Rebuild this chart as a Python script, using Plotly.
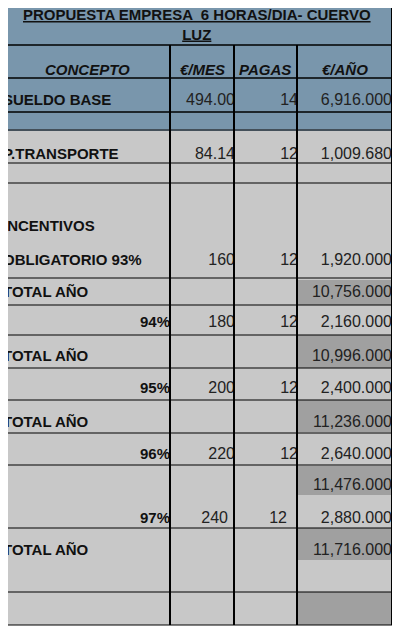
import plotly.graph_objects as go

# table contents (spreadsheet screenshot)
concepto = ['SUELDO BASE', 'P.TRANSPORTE', 'INCENTIVOS', 'OBLIGATORIO 93%', 'TOTAL AÑO',
            '94%', 'TOTAL AÑO', '95%', 'TOTAL AÑO', '96%', '', '97%', 'TOTAL AÑO']
eur_mes = ['494.00', '84.14', '', '160', '', '180', '', '200', '', '220', '', '240', '']
pagas = ['14', '12', '', '12', '', '12', '', '12', '', '12', '', '12', '']
eur_anio = ['6,916.000', '1,009.680', '', '1,920.000', '10,756.000', '2,160.000', '10,996.000',
            '2,400.000', '11,236.000', '2,640.000', '11,476.000', '2,880.000', '11,716.000']

# layout: text centre of each row, and cell geometry
row_y = [101, 155, 227, 261, 293, 323, 357, 389, 423, 455, 486, 519, 551]
col_x = [3, 170, 234, 297, 392]
h_lines = [163, 183, 278, 305, 335, 368, 400, 433, 465, 528, 592, 625]
dark_cells = [(280, 305), (335, 368), (400, 432), (466, 495), (528, 560), (592, 625)]

BLUE = '#7996ac'
LIGHT = '#a3c3dc'
GRAY = '#c8c8c8'
DARK = '#a0a0a0'
FONT = 'Liberation Sans, Arial, sans-serif'
OFF = 8  # page body margin

fig = go.Figure()

shapes = [
    dict(type='rect', x0=0, x1=410, y0=0, y1=130, fillcolor=LIGHT, line_width=0, layer='below'),
    dict(type='rect', x0=col_x[0], x1=col_x[-1], y0=3, y1=130, fillcolor=BLUE, line_width=0, layer='below'),
    dict(type='rect', x0=col_x[0], x1=col_x[-1], y0=130, y1=625, fillcolor=GRAY, line_width=0, layer='below'),
]
for y0, y1 in dark_cells:
    shapes.append(dict(type='rect', x0=col_x[3] + 1, x1=col_x[4], y0=y0, y1=y1,
                       fillcolor=DARK, line_width=0, layer='below'))
for y in [3, 45, 78, 112]:
    shapes.append(dict(type='line', x0=col_x[0], x1=col_x[-1], y0=y, y1=y, line=dict(color='black', width=1.5)))
shapes.append(dict(type='line', x0=0, x1=410, y0=130, y1=130, line=dict(color='#44505a', width=2)))
for y in h_lines:
    shapes.append(dict(type='line', x0=col_x[0], x1=col_x[-1], y0=y, y1=y, line=dict(color='black', width=1)))
for i, x in enumerate(col_x):
    top = 3 if i in (0, 4) else 45
    shapes.append(dict(type='line', x0=x, x1=x, y0=top, y1=625, line=dict(color='black', width=2)))

fig.update_layout(shapes=shapes)

fig.add_annotation(x=197, y=24, xref='x', yref='y', showarrow=False,
                   text='<b><u>PROPUESTA EMPRESA  6 HORAS/DIA- CUERVO</u></b><br><b><u>LUZ</u></b>',
                   font=dict(family=FONT, size=15, color='#111'), align='center')
for name, cx in zip(['CONCEPTO', '€/MES', 'PAGAS', '€/AÑO'],
                    [87, 202, 265, 345]):
    fig.add_annotation(x=cx, y=69, xref='x', yref='y', showarrow=False,
                       text='<b><i>' + name + '</i></b>', font=dict(family=FONT, size=15, color='#111'))

left_labels = [c if not c.endswith('%') or ' ' in c else '' for c in concepto]
pct_labels = [c if c.endswith('%') and ' ' not in c else '' for c in concepto]
fig.add_trace(go.Scatter(x=[3] * len(row_y), y=row_y, mode='text', textposition='middle right',
                         text=['<b>' + t + '</b>' for t in left_labels],
                         textfont=dict(family=FONT, size=15, color='#111')))
fig.add_trace(go.Scatter(x=[170] * len(row_y), y=row_y, mode='text', textposition='middle left',
                         text=['<b>' + t + '</b>' for t in pct_labels],
                         textfont=dict(family=FONT, size=15, color='#111')))
mes_x = [235] * len(row_y)
mes_x[11] = 228
pag_x = [298] * len(row_y)
pag_x[11] = 287
fig.add_trace(go.Scatter(x=mes_x, y=row_y, mode='text', textposition='middle left',
                         text=eur_mes, textfont=dict(family=FONT, size=16, color='#222')))
fig.add_trace(go.Scatter(x=pag_x, y=row_y, mode='text', textposition='middle left',
                         text=pagas, textfont=dict(family=FONT, size=16, color='#222')))
fig.add_trace(go.Scatter(x=[392] * len(row_y), y=row_y, mode='text', textposition='middle left',
                         text=eur_anio, textfont=dict(family=FONT, size=16, color='#222')))

fig.update_layout(
    width=400, height=635, margin=dict(l=0, r=0, t=0, b=0),
    paper_bgcolor='white', plot_bgcolor='white', showlegend=False,
    xaxis=dict(range=[OFF, 400 + OFF], visible=False, fixedrange=True),
    yaxis=dict(range=[635 + OFF, OFF], visible=False, fixedrange=True),
)

fig.write_html("out.html", config={'displayModeBar': False})
